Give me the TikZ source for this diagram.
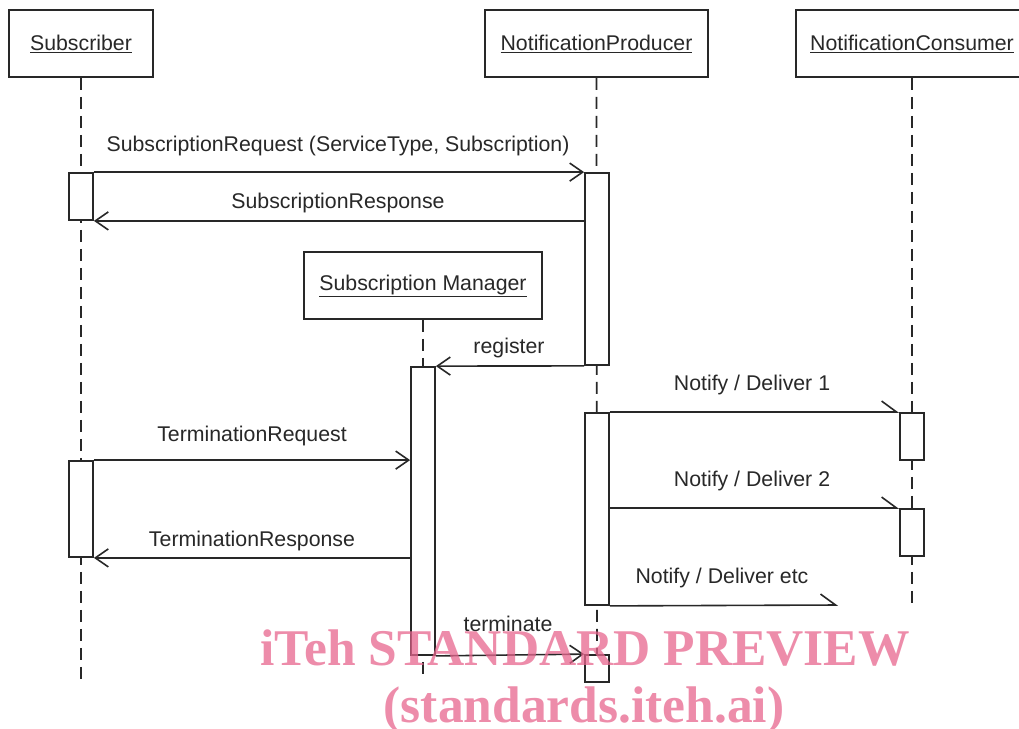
\documentclass[tikz,border=0pt]{standalone}
\usepackage{fontspec}
\setmainfont{Liberation Sans}
\newfontfamily\wmfont{Liberation Serif}
\usetikzlibrary{arrows.meta}
\definecolor{ink}{RGB}{40,40,40}
\definecolor{wmpink}{RGB}{232,102,142}
\begin{document}
\begin{tikzpicture}[x=1pt,y=-1pt,
  every node/.style={font=\fontsize{21.3}{25}\selectfont, text=ink},
  headbox/.style={draw=ink, line width=1.8pt, fill=white, inner sep=0pt},
  actbar/.style={draw=ink, line width=1.8pt, fill=white, minimum width=24pt, inner sep=0pt},
  lifeline/.style={draw=ink, line width=1.8pt, dash pattern=on 12pt off 7pt},
  msg/.style={draw=ink, line width=1.6pt, -{Straight Barb[length=13pt,width=18pt,line width=1.6pt]}},
  halfmsg/.style={draw=ink, line width=1.6pt, -{Straight Barb[left,length=15pt,width=22pt,line width=1.6pt]}},
  lbl/.style={anchor=base, inner sep=0pt},
  wm/.style={text=wmpink, text opacity=0.75, anchor=base, inner sep=0pt, font=\wmfont\bfseries\fontsize{51.5}{56}\selectfont}
]
\useasboundingbox (0,0) rectangle (1019,728);
\fill[white] (0,0) rectangle (1019,728);

% lifeline heads
\node[headbox, minimum width=144pt, minimum height=67pt] (sub) at (81,43.5) {\underline{Subscriber}};
\node[headbox, minimum width=223pt, minimum height=67pt] (np) at (596.5,43.5) {\underline{NotificationProducer}};
\node[headbox, minimum width=232pt, minimum height=67pt] (nc) at (912,43.5) {\underline{NotificationConsumer}};
\node[headbox, minimum width=238pt, minimum height=67pt] (sm) at (423,285.5) {\underline{Subscription Manager}};

% lifeline ends
\coordinate (subend) at (81,683);
\coordinate (npend) at (597,682);
\coordinate (ncend) at (912,607);
\coordinate (smend) at (423,680);

\draw[lifeline] (sub.south) -- (subend);
\draw[lifeline] (np.south) -- (npend);
\draw[lifeline] (nc.south) -- (ncend);
\draw[lifeline] (sm.south) -- (smend);

% activation bars
\node[actbar, minimum height=47pt] (sb1) at (81,196.5) {};
\node[actbar, minimum height=192pt] (npb1) at (597,269) {};
\node[actbar, minimum height=288pt] (smb) at (423,511) {};
\node[actbar, minimum height=192pt] (npb2) at (597,509) {};
\node[actbar, minimum height=47pt] (ncb1) at (912,436.5) {};
\node[actbar, minimum height=47pt] (ncb2) at (912,532.5) {};
\node[actbar, minimum height=96pt] (sb2) at (81,509) {};
\node[actbar, minimum height=27pt] (npb3) at (597,668.5) {};

% messages
\draw[msg] (sb1.north east) -- (npb1.north west);
\draw[msg] (npb1.west |- sb1.south) -- (sb1.south east);
\draw[msg] (npb1.south west) -- (smb.north east);
\draw[halfmsg] (npb2.north east) -- (ncb1.north west);
\draw[halfmsg] (npb2.east |- ncb2.north) -- (ncb2.north west);
\coordinate (etcend) at (838,605);
\draw[halfmsg] (npb2.south east) -- (etcend);
\draw[msg] (sb2.north east) -- (smb.west |- sb2.north);
\draw[msg] (smb.west |- sb2.south) -- (sb2.south east);
\draw[msg] (smb.south east) -- (npb3.north west);

% labels
\node[lbl] (l1) at (338,151) {SubscriptionRequest (ServiceType, Subscription)};
\node[lbl] (l2) at (338,208) {SubscriptionResponse};
\node[lbl] (l3) at (509,353) {register};
\node[lbl] (l4) at (752,390) {Notify / Deliver 1};
\node[lbl] (l5) at (752,486) {Notify / Deliver 2};
\node[lbl] (l6) at (722,583) {Notify / Deliver etc};
\node[lbl] (l7) at (252,441) {TerminationRequest};
\node[lbl] (l8) at (252,546) {TerminationResponse};
\node[lbl] (l9) at (508,631) {terminate};

% watermark
\node[wm] (wm1) at (585,665) {iTeh STANDARD PREVIEW};
\node[wm] (wm2) at (584,722) {(standards.iteh.ai)};
\end{tikzpicture}
\end{document}
